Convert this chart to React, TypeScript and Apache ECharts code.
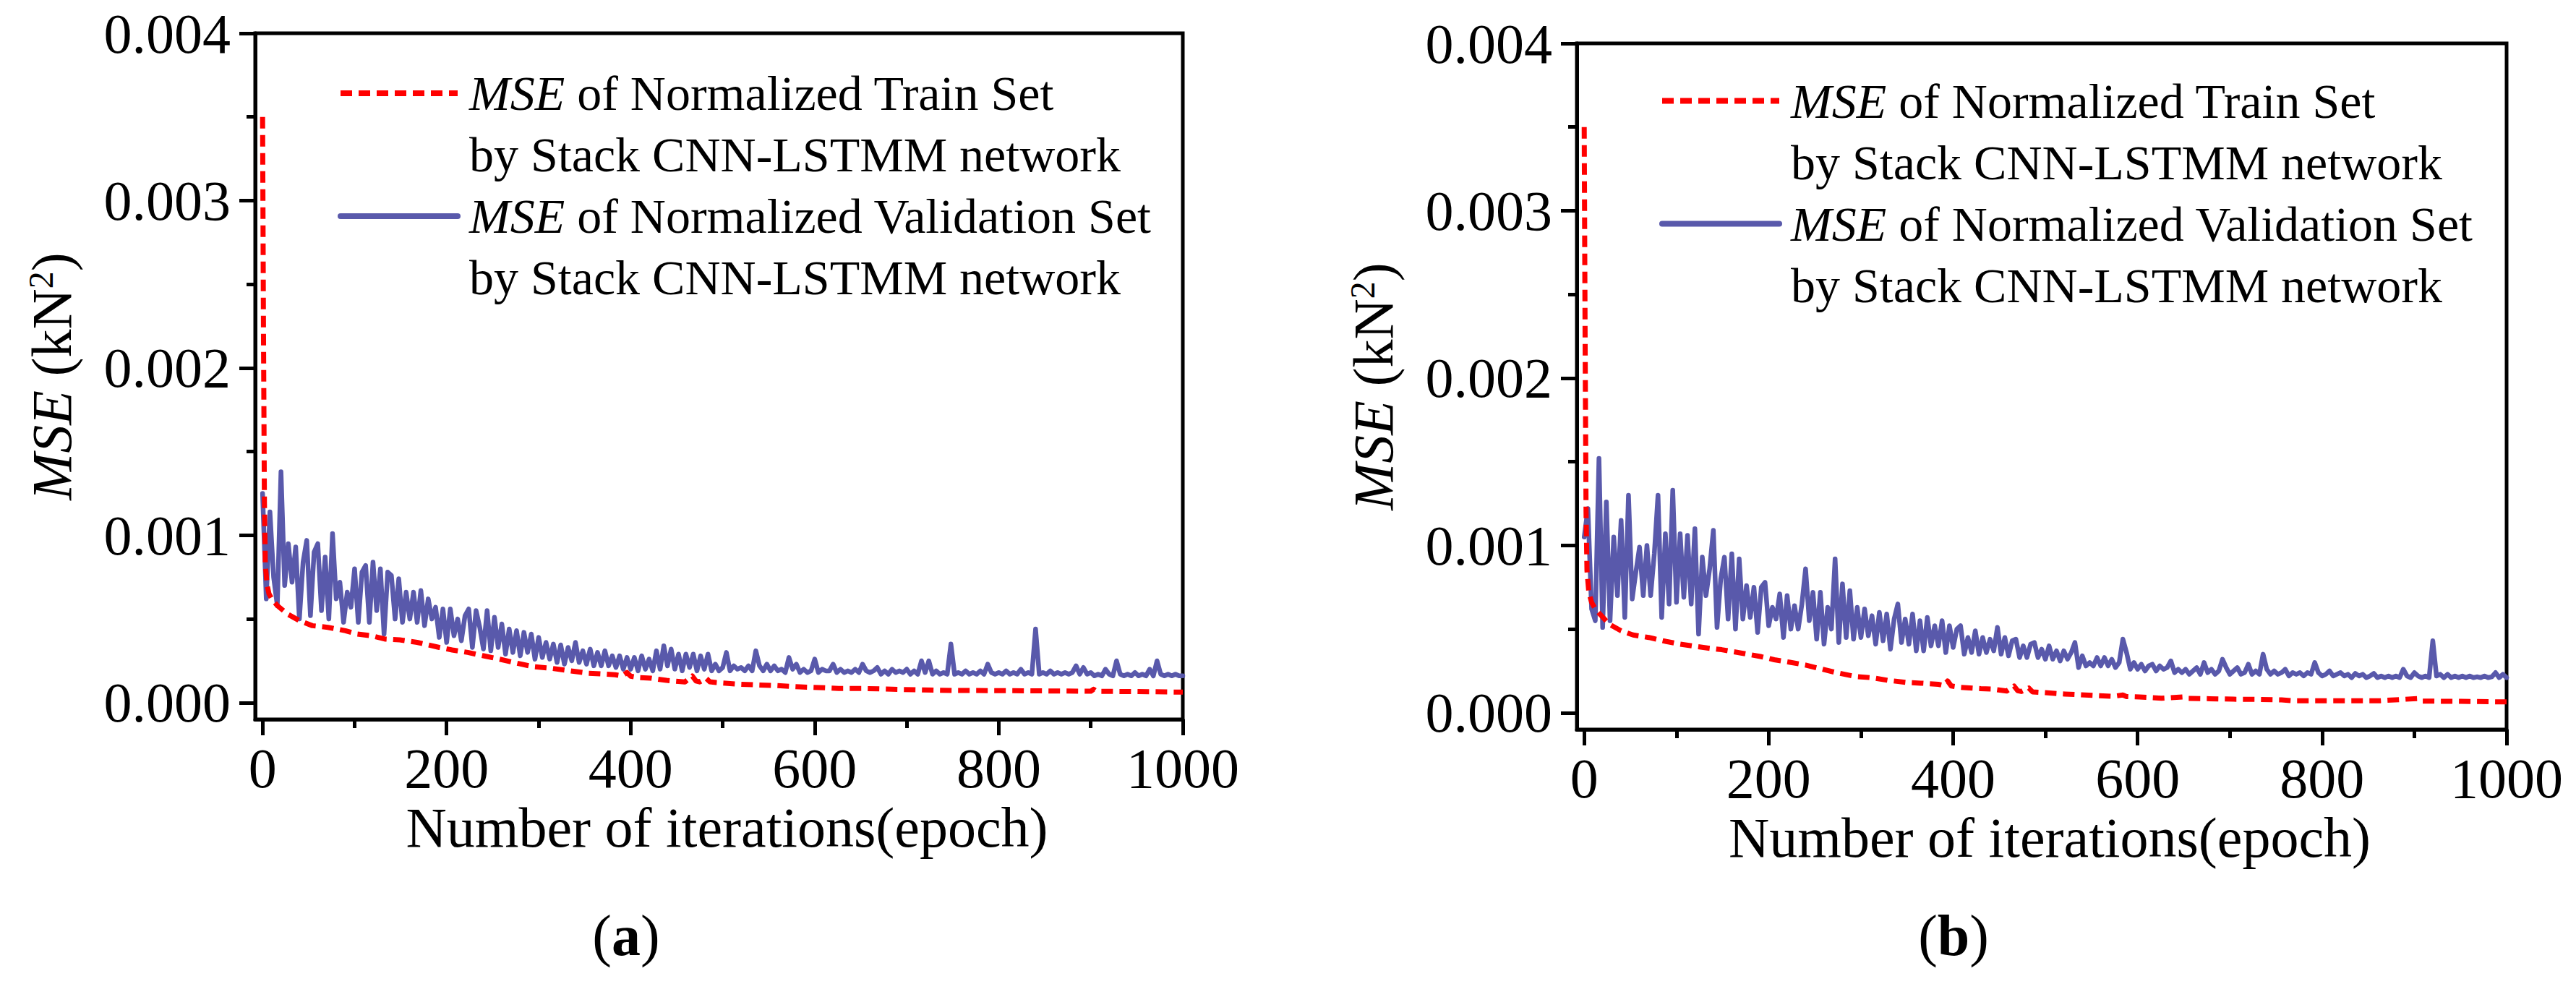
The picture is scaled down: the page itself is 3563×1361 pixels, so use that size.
import React, { useEffect, useRef } from "react";
import * as echarts from "echarts";

// ---------- tick values ----------
const X_TICKS = [0, 200, 400, 600, 800, 1000];
const X_MINOR_TICKS = [100, 300, 500, 700, 900];
const Y_TICKS = [0, 0.001, 0.002, 0.003, 0.004];
const Y_MINOR_TICKS = [0.0005, 0.0015, 0.0025, 0.0035];

const NAME_TRAIN = "MSE of Normalized Train Set by Stack CNN-LSTMM network";
const NAME_VAL = "MSE of Normalized Validation Set by Stack CNN-LSTMM network";

// ---------- validation series (one value every 4 epochs, 0..1000) ----------
const VAL_EPOCHS = Array.from({ length: 251 }, (_, i) => i * 4);

const VAL_A = [
  1.25e-3, 0.62e-3, 1.14e-3, 0.75e-3, 0.58e-3, 1.38e-3, 0.70e-3, 0.95e-3, 0.72e-3, 0.93e-3,
  0.50e-3, 0.84e-3, 0.97e-3, 0.52e-3, 0.90e-3, 0.95e-3, 0.55e-3, 0.87e-3, 0.50e-3, 1.01e-3,
  0.62e-3, 0.72e-3, 0.48e-3, 0.66e-3, 0.57e-3, 0.80e-3, 0.48e-3, 0.78e-3, 0.82e-3, 0.48e-3,
  0.84e-3, 0.55e-3, 0.80e-3, 0.41e-3, 0.78e-3, 0.76e-3, 0.50e-3, 0.74e-3, 0.48e-3, 0.66e-3,
  0.50e-3, 0.66e-3, 0.48e-3, 0.67e-3, 0.46e-3, 0.62e-3, 0.50e-3, 0.57e-3, 0.39e-3, 0.56e-3,
  0.36e-3, 0.56e-3, 0.40e-3, 0.50e-3, 0.37e-3, 0.52e-3, 0.56e-3, 0.33e-3, 0.55e-3, 0.45e-3,
  0.32e-3, 0.55e-3, 0.31e-3, 0.51e-3, 0.33e-3, 0.47e-3, 0.29e-3, 0.44e-3, 0.30e-3, 0.43e-3,
  0.28e-3, 0.42e-3, 0.30e-3, 0.41e-3, 0.26e-3, 0.39e-3, 0.27e-3, 0.36e-3, 0.26e-3, 0.35e-3,
  0.24e-3, 0.345e-3, 0.23e-3, 0.33e-3, 0.25e-3, 0.36e-3, 0.24e-3, 0.31e-3, 0.23e-3, 0.32e-3,
  0.22e-3, 0.30e-3, 0.22e-3, 0.31e-3, 0.22e-3, 0.28e-3, 0.21e-3, 0.28e-3, 0.20e-3, 0.27e-3,
  0.20e-3, 0.27e-3, 0.19e-3, 0.28e-3, 0.20e-3, 0.26e-3, 0.19e-3, 0.31e-3, 0.20e-3, 0.34e-3,
  0.22e-3, 0.32e-3, 0.20e-3, 0.29e-3, 0.19e-3, 0.29e-3, 0.21e-3, 0.29e-3, 0.19e-3, 0.28e-3,
  0.20e-3, 0.29e-3, 0.19e-3, 0.23e-3, 0.19e-3, 0.21e-3, 0.30e-3, 0.19e-3, 0.22e-3, 0.20e-3,
  0.21e-3, 0.19e-3, 0.22e-3, 0.19e-3, 0.31e-3, 0.22e-3, 0.19e-3, 0.23e-3, 0.19e-3, 0.22e-3,
  0.19e-3, 0.20e-3, 0.18e-3, 0.27e-3, 0.20e-3, 0.23e-3, 0.18e-3, 0.20e-3, 0.18e-3, 0.19e-3,
  0.26e-3, 0.18e-3, 0.20e-3, 0.19e-3, 0.19e-3, 0.23e-3, 0.18e-3, 0.20e-3, 0.18e-3, 0.19e-3,
  0.18e-3, 0.20e-3, 0.18e-3, 0.23e-3, 0.19e-3, 0.18e-3, 0.19e-3, 0.21e-3, 0.17e-3, 0.19e-3,
  0.17e-3, 0.20e-3, 0.18e-3, 0.19e-3, 0.18e-3, 0.20e-3, 0.17e-3, 0.19e-3, 0.17e-3, 0.25e-3,
  0.18e-3, 0.25e-3, 0.17e-3, 0.19e-3, 0.17e-3, 0.18e-3, 0.17e-3, 0.35e-3, 0.17e-3, 0.18e-3,
  0.17e-3, 0.19e-3, 0.17e-3, 0.18e-3, 0.17e-3, 0.19e-3, 0.17e-3, 0.23e-3, 0.18e-3, 0.17e-3,
  0.18e-3, 0.17e-3, 0.19e-3, 0.17e-3, 0.18e-3, 0.17e-3, 0.20e-3, 0.17e-3, 0.18e-3, 0.17e-3,
  0.44e-3, 0.17e-3, 0.18e-3, 0.17e-3, 0.19e-3, 0.17e-3, 0.18e-3, 0.17e-3, 0.18e-3, 0.17e-3,
  0.18e-3, 0.22e-3, 0.17e-3, 0.21e-3, 0.17e-3, 0.18e-3, 0.16e-3, 0.17e-3, 0.16e-3, 0.20e-3,
  0.17e-3, 0.16e-3, 0.25e-3, 0.17e-3, 0.16e-3, 0.17e-3, 0.16e-3, 0.18e-3, 0.16e-3, 0.17e-3,
  0.16e-3, 0.20e-3, 0.16e-3, 0.25e-3, 0.17e-3, 0.16e-3, 0.17e-3, 0.16e-3, 0.17e-3, 0.16e-3,
  0.16e-3,
];

const VAL_B = [
  1.05e-3, 1.22e-3, 0.62e-3, 0.55e-3, 1.52e-3, 0.51e-3, 1.26e-3, 0.55e-3, 1.05e-3, 0.70e-3,
  1.15e-3, 0.57e-3, 1.30e-3, 0.68e-3, 0.84e-3, 0.99e-3, 0.70e-3, 1.00e-3, 0.70e-3, 0.95e-3,
  1.30e-3, 0.57e-3, 1.07e-3, 0.65e-3, 1.33e-3, 0.66e-3, 1.07e-3, 0.69e-3, 1.06e-3, 0.65e-3,
  1.10e-3, 0.47e-3, 0.93e-3, 0.70e-3, 0.86e-3, 1.09e-3, 0.51e-3, 0.80e-3, 0.93e-3, 0.56e-3,
  0.95e-3, 0.50e-3, 0.92e-3, 0.56e-3, 0.76e-3, 0.57e-3, 0.75e-3, 0.48e-3, 0.75e-3, 0.78e-3,
  0.52e-3, 0.63e-3, 0.56e-3, 0.71e-3, 0.45e-3, 0.70e-3, 0.50e-3, 0.64e-3, 0.50e-3, 0.65e-3,
  0.86e-3, 0.55e-3, 0.72e-3, 0.44e-3, 0.72e-3, 0.41e-3, 0.63e-3, 0.50e-3, 0.92e-3, 0.42e-3,
  0.77e-3, 0.45e-3, 0.73e-3, 0.44e-3, 0.63e-3, 0.45e-3, 0.62e-3, 0.46e-3, 0.58e-3, 0.41e-3,
  0.60e-3, 0.43e-3, 0.59e-3, 0.38e-3, 0.56e-3, 0.65e-3, 0.42e-3, 0.56e-3, 0.41e-3, 0.59e-3,
  0.37e-3, 0.55e-3, 0.37e-3, 0.57e-3, 0.40e-3, 0.52e-3, 0.40e-3, 0.55e-3, 0.36e-3, 0.52e-3,
  0.39e-3, 0.50e-3, 0.52e-3, 0.35e-3, 0.45e-3, 0.36e-3, 0.49e-3, 0.35e-3, 0.45e-3, 0.36e-3,
  0.44e-3, 0.37e-3, 0.51e-3, 0.35e-3, 0.45e-3, 0.34e-3, 0.43e-3, 0.44e-3, 0.33e-3, 0.40e-3,
  0.33e-3, 0.41e-3, 0.42e-3, 0.33e-3, 0.38e-3, 0.32e-3, 0.40e-3, 0.32e-3, 0.37e-3, 0.31e-3,
  0.37e-3, 0.32e-3, 0.36e-3, 0.42e-3, 0.27e-3, 0.34e-3, 0.28e-3, 0.30e-3, 0.28e-3, 0.33e-3,
  0.28e-3, 0.33e-3, 0.28e-3, 0.32e-3, 0.27e-3, 0.30e-3, 0.44e-3, 0.36e-3, 0.26e-3, 0.30e-3,
  0.26e-3, 0.29e-3, 0.25e-3, 0.28e-3, 0.29e-3, 0.25e-3, 0.28e-3, 0.26e-3, 0.27e-3, 0.31e-3,
  0.24e-3, 0.26e-3, 0.24e-3, 0.26e-3, 0.23e-3, 0.25e-3, 0.27e-3, 0.23e-3, 0.30e-3, 0.24e-3,
  0.26e-3, 0.23e-3, 0.25e-3, 0.32e-3, 0.27e-3, 0.23e-3, 0.25e-3, 0.27e-3, 0.23e-3, 0.24e-3,
  0.29e-3, 0.23e-3, 0.25e-3, 0.23e-3, 0.35e-3, 0.26e-3, 0.23e-3, 0.25e-3, 0.23e-3, 0.24e-3,
  0.26e-3, 0.22e-3, 0.24e-3, 0.23e-3, 0.24e-3, 0.22e-3, 0.24e-3, 0.23e-3, 0.30e-3, 0.24e-3,
  0.22e-3, 0.23e-3, 0.25e-3, 0.22e-3, 0.23e-3, 0.24e-3, 0.22e-3, 0.23e-3, 0.21e-3, 0.235e-3,
  0.22e-3, 0.23e-3, 0.21e-3, 0.22e-3, 0.235e-3, 0.21e-3, 0.22e-3, 0.21e-3, 0.22e-3, 0.21e-3,
  0.22e-3, 0.21e-3, 0.26e-3, 0.22e-3, 0.21e-3, 0.24e-3, 0.22e-3, 0.21e-3, 0.22e-3, 0.21e-3,
  0.43e-3, 0.22e-3, 0.23e-3, 0.21e-3, 0.23e-3, 0.21e-3, 0.22e-3, 0.21e-3, 0.22e-3, 0.21e-3,
  0.22e-3, 0.21e-3, 0.215e-3, 0.21e-3, 0.22e-3, 0.21e-3, 0.215e-3, 0.24e-3, 0.21e-3, 0.23e-3,
  0.21e-3,
];

// ---------- training series ----------
const TRAIN_A_EPOCHS = [
  0, 1, 2, 3, 5, 7, 10, 16, 27, 40, 54, 71, 90, 103, 118, 133, 149, 168, 192, 206,
  223, 240, 255, 269, 294, 313, 330, 354, 367, 383, 391, 396, 400, 409, 422, 439, 459, 467, 471, 475,
  482, 486, 493, 516, 537, 558, 584, 605, 626, 652, 684, 718, 752, 797, 850, 900, 903, 906, 950, 1000,
];
const TRAIN_A = [
  3.5e-3, 2.2e-3, 1.2e-3, 0.82e-3, 0.70e-3, 0.65e-3, 0.62e-3, 0.58e-3, 0.53e-3, 0.49e-3,
  0.46e-3, 0.45e-3, 0.43e-3, 0.41e-3, 0.40e-3, 0.38e-3, 0.375e-3, 0.36e-3, 0.33e-3, 0.315e-3,
  0.30e-3, 0.28e-3, 0.263e-3, 0.245e-3, 0.215e-3, 0.206e-3, 0.193e-3, 0.176e-3, 0.172e-3, 0.167e-3,
  0.16e-3, 0.18e-3, 0.158e-3, 0.15e-3, 0.146e-3, 0.133e-3, 0.124e-3, 0.159e-3, 0.13e-3, 0.124e-3,
  0.146e-3, 0.125e-3, 0.12e-3, 0.111e-3, 0.106e-3, 0.102e-3, 0.094e-3, 0.09e-3, 0.085e-3, 0.085e-3,
  0.08e-3, 0.076e-3, 0.073e-3, 0.072e-3, 0.07e-3, 0.068e-3, 0.08e-3, 0.068e-3, 0.066e-3, 0.063e-3,
];

const TRAIN_B_EPOCHS = [
  0, 1, 2, 3, 5, 8, 12, 17, 27, 40, 53, 70, 89, 103, 120, 132, 149, 170, 192, 206,
  223, 240, 254, 274, 294, 313, 329, 352, 365, 384, 390, 394, 398, 406, 430, 443, 458, 466, 470, 474,
  482, 486, 500, 521, 547, 573, 584, 588, 602, 626, 649, 654, 678, 704, 730, 756, 769, 793, 863, 903,
  907, 950, 1000,
];
const TRAIN_B = [
  3.5e-3, 2.2e-3, 1.2e-3, 0.85e-3, 0.72e-3, 0.66e-3, 0.62e-3, 0.59e-3, 0.53e-3, 0.49e-3,
  0.465e-3, 0.45e-3, 0.426e-3, 0.411e-3, 0.397e-3, 0.388e-3, 0.377e-3, 0.357e-3, 0.335e-3, 0.317e-3,
  0.302e-3, 0.285e-3, 0.266e-3, 0.239e-3, 0.217e-3, 0.209e-3, 0.194e-3, 0.18e-3, 0.177e-3, 0.17e-3,
  0.163e-3, 0.19e-3, 0.16e-3, 0.153e-3, 0.144e-3, 0.141e-3, 0.13e-3, 0.16e-3, 0.132e-3, 0.127e-3,
  0.148e-3, 0.125e-3, 0.12e-3, 0.112e-3, 0.105e-3, 0.098e-3, 0.106e-3, 0.097e-3, 0.094e-3, 0.087e-3,
  0.095e-3, 0.086e-3, 0.084e-3, 0.081e-3, 0.08e-3, 0.077e-3, 0.072e-3, 0.072e-3, 0.072e-3, 0.085e-3,
  0.07e-3, 0.068e-3, 0.065e-3,
];

// ---------- styling ----------
const FONT = "'Liberation Serif', 'Times New Roman', Times, serif";
const BLUE = "#5959AB";
const RED = "#FF0000";
const BLACK = "#000000";

const GRIDS = [
  { left: 353, top: 46, width: 1283, height: 949 },
  { left: 2181, top: 60, width: 1286, height: 949 },
];
const LEGEND_POS = [
  { left: 467, trainTop: 1.5, valTop: 171.5 },
  { left: 2295, trainTop: 12, valTop: 182 },
];
const CAPTIONS = [
  { x: 866, y: 1294, letter: "a" },
  { x: 2702, y: 1294, letter: "b" },
];

function legendFormatter(name: string) {
  if (name === NAME_TRAIN) return "{i|MSE} of Normalized Train Set\nby Stack CNN-LSTMM network";
  return "{i|MSE} of Normalized Validation Set\nby Stack CNN-LSTMM network";
}

function buildOption() {
  const xAxis: any[] = [];
  const yAxis: any[] = [];
  const series: any[] = [];
  const legend: any[] = [];
  const graphic: any[] = [];

  const valSets = [VAL_A, VAL_B];
  const trainEpochs = [TRAIN_A_EPOCHS, TRAIN_B_EPOCHS];
  const trainSets = [TRAIN_A, TRAIN_B];

  GRIDS.forEach((_, g) => {
    const tickStyle = { color: BLACK, width: 5 };
    xAxis.push({
      gridIndex: g,
      type: "value",
      min: -8,
      max: 1000,
      position: "bottom",
      axisLine: { show: true, onZero: false, lineStyle: { color: BLACK, width: 5 } },
      axisTick: { show: true, customValues: X_TICKS, length: 22, lineStyle: tickStyle },
      axisLabel: {
        show: true,
        customValues: X_TICKS,
        margin: 28,
        color: BLACK,
        fontSize: 78,
        fontFamily: FONT,
        formatter: (v: number) => String(v),
      },
      splitLine: { show: false },
      name: "Number of iterations(epoch)",
      nameLocation: "middle",
      nameGap: 105,
      nameTextStyle: { color: BLACK, fontSize: 78, fontFamily: FONT, padding: [0, 0, 0, 22] },
    });
    xAxis.push({
      gridIndex: g,
      type: "value",
      min: -8,
      max: 1000,
      position: "bottom",
      axisLine: { show: false, onZero: false },
      axisTick: { show: true, customValues: X_MINOR_TICKS, length: 12, lineStyle: tickStyle },
      axisLabel: { show: false },
      splitLine: { show: false },
    });
    yAxis.push({
      gridIndex: g,
      type: "value",
      min: -0.0001,
      max: 0.004,
      position: "left",
      axisLine: { show: true, onZero: false, lineStyle: { color: BLACK, width: 5 } },
      axisTick: { show: true, customValues: Y_TICKS, length: 22, lineStyle: tickStyle },
      axisLabel: {
        show: true,
        customValues: Y_TICKS,
        margin: 34,
        color: BLACK,
        fontSize: 78,
        fontFamily: FONT,
        formatter: (v: number) => v.toFixed(3),
      },
      splitLine: { show: false },
      name: "{i|MSE} (kN{s|2})",
      nameLocation: "middle",
      nameGap: 243,
      nameTextStyle: {
        color: BLACK,
        fontSize: 78,
        fontFamily: FONT,
        rich: {
          i: { fontStyle: "italic", fontSize: 78, fontFamily: FONT, color: BLACK },
          s: { fontSize: 48, fontFamily: FONT, color: BLACK, verticalAlign: "top" },
        },
      },
    });
    yAxis.push({
      gridIndex: g,
      type: "value",
      min: -0.0001,
      max: 0.004,
      position: "left",
      axisLine: { show: false, onZero: false },
      axisTick: { show: true, customValues: Y_MINOR_TICKS, length: 12, lineStyle: tickStyle },
      axisLabel: { show: false },
      splitLine: { show: false },
    });

    series.push({
      type: "line",
      name: NAME_VAL,
      xAxisIndex: g * 2,
      yAxisIndex: g * 2,
      data: VAL_EPOCHS.map((e, i) => [e, valSets[g][i]]),
      showSymbol: false,
      symbol: "none",
      silent: true,
      lineStyle: { color: BLUE, width: 6.5, join: "round", cap: "round" },
      itemStyle: { color: BLUE },
    });
    series.push({
      type: "line",
      name: NAME_TRAIN,
      xAxisIndex: g * 2,
      yAxisIndex: g * 2,
      data: trainEpochs[g].map((e, i) => [e, trainSets[g][i]]),
      showSymbol: false,
      symbol: "none",
      silent: true,
      lineStyle: { color: RED, width: 7, type: [16, 9], join: "round" },
      itemStyle: { color: RED },
    });

    const lp = LEGEND_POS[g];
    const legendBase = {
      orient: "vertical",
      left: lp.left,
      padding: 0,
      itemGap: 0,
      itemWidth: 162,
      itemHeight: 20,
      selectedMode: false,
      formatter: legendFormatter,
      lineStyle: { width: 8 },
      itemStyle: { color: "transparent", borderColor: "transparent", borderWidth: 0, opacity: 0 },
      textStyle: {
        color: BLACK,
        fontSize: 68,
        fontFamily: FONT,
        lineHeight: 85,
        padding: [85, 0, 0, 11],
        rich: {
          i: { fontStyle: "italic", fontSize: 68, fontFamily: FONT, color: BLACK, lineHeight: 85 },
        },
      },
    };
    legend.push({ ...legendBase, top: lp.trainTop, data: [NAME_TRAIN] });
    legend.push({ ...legendBase, top: lp.valTop, data: [NAME_VAL] });

    const cap = CAPTIONS[g];
    graphic.push({
      type: "text",
      x: cap.x,
      y: cap.y,
      silent: true,
      style: {
        text: "{n|(}{b|" + cap.letter + "}{n|)}",
        align: "center",
        verticalAlign: "middle",
        fill: BLACK,
        font: "80px " + FONT,
        rich: {
          n: { fontSize: 80, fontFamily: FONT, fill: BLACK },
          b: { fontSize: 80, fontFamily: FONT, fontWeight: "bold", fill: BLACK },
        },
      },
    });
  });

  return {
    animation: false,
    backgroundColor: "#ffffff",
    grid: GRIDS.map((gr) => ({
      ...gr,
      show: true,
      borderColor: BLACK,
      borderWidth: 5,
      backgroundColor: "transparent",
      containLabel: false,
    })),
    xAxis,
    yAxis,
    legend,
    series,
    graphic,
  };
}

export default function App() {
  const ref = useRef<HTMLDivElement | null>(null);
  useEffect(() => {
    if (!ref.current) return;
    const chart = echarts.init(ref.current, null, { renderer: "svg", width: 3563, height: 1361 });
    chart.setOption(buildOption() as any);
    return () => {
      chart.dispose();
    };
  }, []);
  return (
    <div
      ref={ref}
      style={{ position: "absolute", left: 0, top: 0, width: 3563, height: 1361, background: "#fff" }}
    />
  );
}
